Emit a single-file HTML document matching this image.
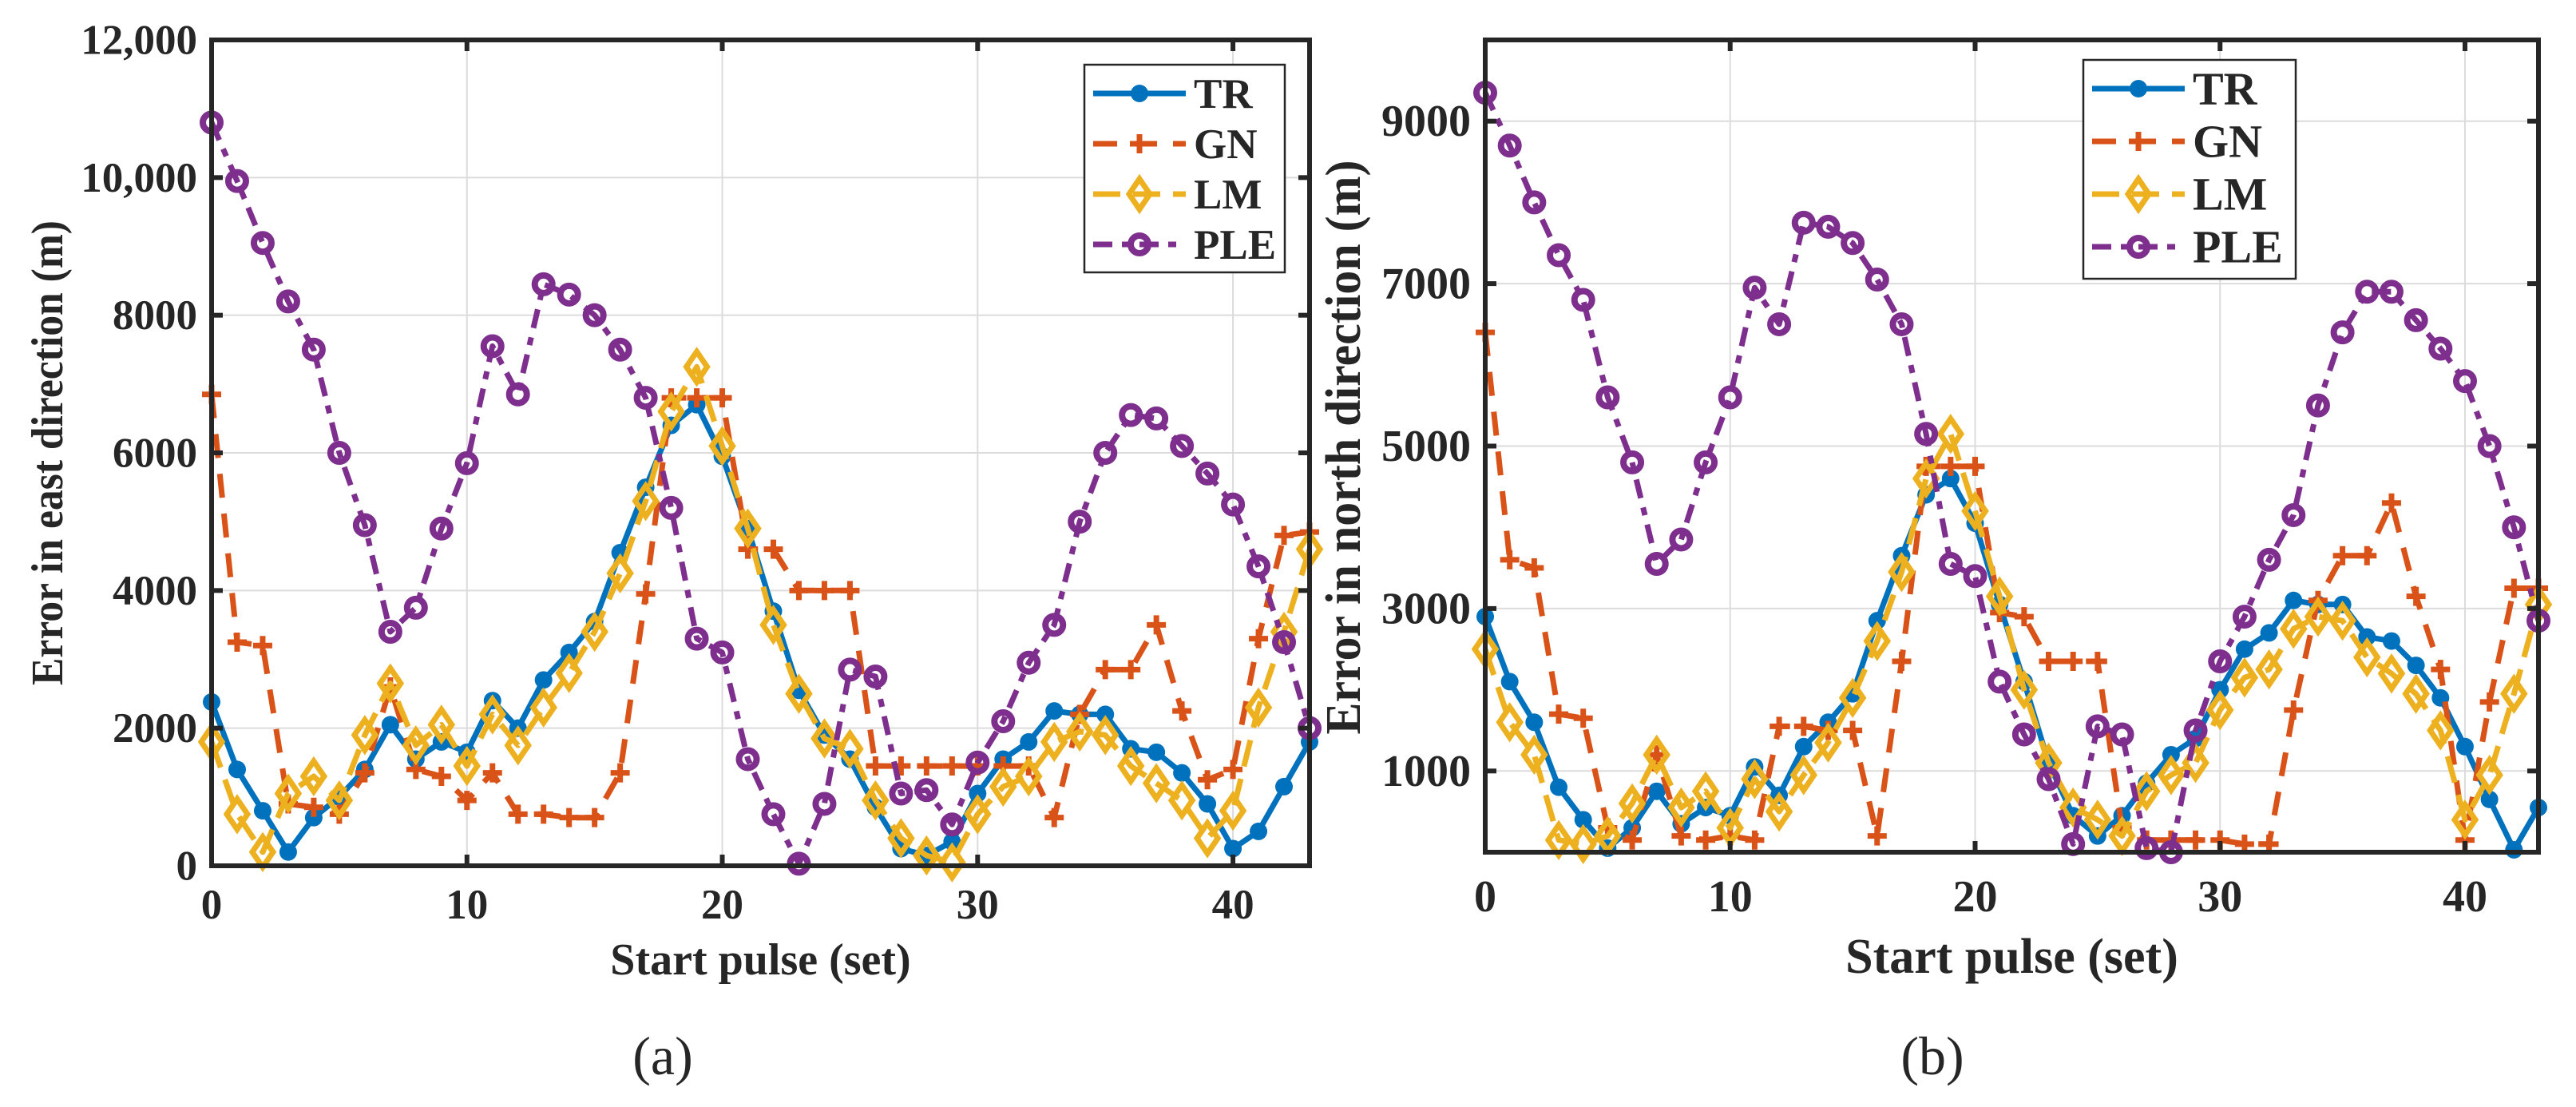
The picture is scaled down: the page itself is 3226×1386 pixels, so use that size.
<!DOCTYPE html>
<html><head><meta charset="utf-8"><style>
html,body{margin:0;padding:0;background:#fff;}
svg{display:block;}
svg text{font-family:"Liberation Serif","Times New Roman","Nimbus Roman","DejaVu Serif",serif;fill:#262626;}
</style></head><body>
<svg id="fig" width="3226" height="1386" viewBox="0 0 3226 1386" xmlns="http://www.w3.org/2000/svg" font-family="'Liberation Serif', 'DejaVu Serif', serif">
</svg>
<script>
const xs = Array.from({length:44},(_,i)=>i);
const eastTR  = [2380,1400,800,200,700,1000,1400,2050,1550,1800,1650,2400,2000,2700,3100,3550,4550,5500,6400,6700,5950,4900,3700,2550,1900,1550,850,250,150,350,1050,1550,1800,2250,2200,2200,1700,1650,1350,900,250,500,1150,1800];
const eastGN  = [6850,3250,3200,900,850,750,1350,2600,1400,1300,950,1350,750,750,700,700,1350,3950,6800,6800,6800,4600,4600,4000,4000,4000,1450,1450,1450,1450,1450,1450,1450,700,2200,2850,2850,3500,2250,1250,1400,3300,4800,4850];
const eastLM  = [1800,750,200,1050,1300,950,1900,2650,1750,2050,1450,2200,1750,2300,2800,3400,4250,5300,6600,7250,6100,4900,3500,2500,1850,1700,950,400,150,50,750,1150,1300,1800,1950,1900,1450,1200,950,400,800,2300,3400,4600];
const eastPLE = [10800,9950,9050,8200,7500,6000,4950,3400,3750,4900,5850,7550,6850,8450,8300,8000,7500,6800,5200,3300,3100,1550,750,30,900,2850,2750,1050,1100,600,1500,2100,2950,3500,5000,6000,6550,6500,6100,5700,5250,4350,3250,2000];
const northTR  = [2900,2100,1600,800,400,50,300,750,350,550,450,1050,700,1300,1600,1950,2850,3650,4400,4600,4050,3050,2100,1100,450,200,450,850,1200,1400,2000,2500,2700,3100,3050,3050,2650,2600,2300,1900,1300,650,30,550];
const northGN  = [6400,3600,3500,1700,1650,300,150,1200,200,150,200,150,1550,1550,1500,1500,200,2350,4750,4750,4750,2950,2900,2350,2350,2350,300,150,150,150,150,100,100,1750,3100,3650,3650,4300,3150,2250,150,1850,3250,3250];
const northLM  = [2500,1600,1200,150,100,200,600,1200,550,750,300,900,500,950,1350,1900,2600,3450,4600,5150,4200,3150,2000,1100,550,400,200,750,950,1100,1750,2150,2250,2750,2900,2850,2400,2200,1950,1500,400,950,1950,3050];
const northPLE = [9350,8700,8000,7350,6800,5600,4800,3550,3850,4800,5600,6950,6500,7750,7700,7500,7050,6500,5150,3550,3400,2100,1450,900,100,1550,1450,50,0,1500,2350,2900,3600,4150,5500,6400,6900,6900,6550,6200,5800,5000,4000,2850];
const xTicks = [0,10,20,30,40];
const eastYTicks = [0,2000,4000,6000,8000,10000,12000];
const eastYLabels = ["0","2000","4000","6000","8000","10,000","12,000"];
const northYTicks = [1000,3000,5000,7000,9000];
const northYLabels = ["1000","3000","5000","7000","9000"];
const seriesNames = ["TR","GN","LM","PLE"];

const NS="http://www.w3.org/2000/svg";
const svg=document.getElementById('fig');
const FF="'Liberation Serif', 'Times New Roman', 'DejaVu Serif', serif";
function mk(tag,attrs,parent){const e=document.createElementNS(NS,tag);for(const k in attrs)e.setAttribute(k,attrs[k]);if(tag==='text')e.setAttribute('font-family',FF);(parent||svg).appendChild(e);return e;}
const COL={TR:"#0072BD",GN:"#D95319",LM:"#EDB120",PLE:"#7E2F8E"};
const DASH={TR:"none",GN:"30 20",LM:"34 16",PLE:"24 12 10 12"};

function marker(g,name,x,y){
  let m;
  if(name==="TR"){m=mk('circle',{cx:x,cy:y,r:11,fill:COL.TR},g);}
  else if(name==="GN"){m=mk('path',{d:`M${x-12},${y}H${x+12}M${x},${y-12}V${y+12}`,stroke:COL.GN,'stroke-width':7,fill:'none'},g);}
  else if(name==="LM"){m=mk('path',{d:`M${x},${y-19}L${x+13},${y}L${x},${y+19}L${x-13},${y}Z`,stroke:COL.LM,'stroke-width':7,fill:'none'},g);}
  else {m=mk('circle',{cx:x,cy:y,r:11,stroke:COL.PLE,'stroke-width':8,fill:'none'},g);}
  
  
}

function panel(cfg){
  const {L,R,T,B,ymax,yTicks,yLabels,series,id,tickFs,labFs,ylab,ylabX,ylabLen,xlabY,leg,cap,capX}=cfg;
  const g=mk('g',{});
  
  
  const sx=v=>L+(v-0)/43*(R-L);
  const sy=v=>B-v/ymax*(B-T);
  xTicks.forEach(t=>{const l=mk('line',{x1:sx(t),x2:sx(t),y1:T,y2:B,stroke:'#dcdcdc','stroke-width':2},g);
    });
  yTicks.forEach(t=>{const l=mk('line',{x1:L,x2:R,y1:sy(t),y2:sy(t),stroke:'#dcdcdc','stroke-width':2},g);
    });
  const data=series;
  seriesNames.forEach((n,si)=>{
    const sg=mk('g',{},g);
    
    
    const vals=data[si];
    const d=vals.map((v,i)=>(i?'L':'M')+sx(xs[i]).toFixed(1)+','+sy(v).toFixed(1)).join('');
    const p=mk('path',{d,stroke:COL[n],'stroke-width':7,fill:'none','stroke-dasharray':DASH[n],'stroke-linejoin':'round'},sg);
    
    
    vals.forEach((v,i)=>marker(sg,n,sx(xs[i]),sy(v)));
  });
  const box=mk('rect',{x:L,y:T,width:R-L,height:B-T,fill:'none',stroke:'#262626','stroke-width':6},g);
  
  xTicks.forEach(t=>{
    mk('line',{x1:sx(t),x2:sx(t),y1:B,y2:B-14,stroke:'#262626','stroke-width':6},g);
    mk('line',{x1:sx(t),x2:sx(t),y1:T,y2:T+14,stroke:'#262626','stroke-width':6},g);
    const tx=mk('text',{x:sx(t),y:cfg.xtickY,'font-size':tickFs,'font-weight':'bold','text-anchor':'middle'},g);
    tx.textContent=String(t);
    
  });
  yTicks.forEach((t,i)=>{
    mk('line',{x1:L,x2:L+14,y1:sy(t),y2:sy(t),stroke:'#262626','stroke-width':6},g);
    mk('line',{x1:R,x2:R-14,y1:sy(t),y2:sy(t),stroke:'#262626','stroke-width':6},g);
    const tx=mk('text',{x:L-18,y:sy(t)+tickFs*0.33,'font-size':tickFs,'font-weight':'bold','text-anchor':'end'},g);
    tx.textContent=yLabels[i];
    
  });
  const xl=mk('text',{x:(L+R)/2+cfg.xlabDX,y:xlabY,'font-size':labFs,'font-weight':'bold','text-anchor':'middle'},g);
  xl.textContent="Start pulse (set)";
  
  const yc=cfg.ylabC;
  const yl=mk('text',{x:0,y:0,'font-size':labFs,'font-weight':'bold','text-anchor':'middle',transform:`translate(${ylabX},${yc}) rotate(-90)`,textLength:ylabLen,lengthAdjust:'spacingAndGlyphs'},g);
  yl.textContent=ylab;
  
  const lg=mk('g',{},g);
  
  mk('rect',{x:leg.x,y:leg.y,width:leg.w,height:leg.h,fill:'#fff',stroke:'#262626','stroke-width':2.5},lg);
  seriesNames.forEach((n,i)=>{
    const e=mk('g',{},lg);
    
    
    const cy=leg.y+36+i*leg.step;
    const x0=leg.x+11, x1=x0+116;
    mk('path',{d:`M${x0},${cy}H${x1}`,stroke:COL[n],'stroke-width':7,'stroke-dasharray':DASH[n]},e);
    marker(e,n,(x0+x1)/2,cy);
    const t=mk('text',{x:x1+10,y:cy+leg.fs*0.34,'font-size':leg.fs,'font-weight':'bold',fill:'#000'},e);
    t.textContent=n;
  });
  const c=mk('text',{x:capX,y:1345,'font-size':68,'text-anchor':'middle'},svg);
  c.textContent=cap;
  
}

panel({id:'east',L:265,R:1640,T:50,B:1084,ymax:12000,yTicks:eastYTicks,yLabels:eastYLabels,
  series:[eastTR,eastGN,eastLM,eastPLE],tickFs:53,labFs:56,ylab:"Error in east direction (m)",
  ylabX:78,ylabC:567,ylabLen:582,xlabY:1220,xlabDX:0,xtickY:1150,
  leg:{x:1358,y:81,w:251,h:260,step:63,fs:53},cap:"(a)",capX:830});
panel({id:'north',L:1860,R:3179,T:50,B:1067,ymax:10000,yTicks:northYTicks,yLabels:northYLabels,
  series:[northTR,northGN,northLM,northPLE],tickFs:56,labFs:62,ylab:"Error in north direction (m)",
  ylabX:1703,ylabC:560,ylabLen:719,xlabY:1218,xlabDX:0,xtickY:1141,
  leg:{x:2609,y:75,w:266,h:274,step:66,fs:58},cap:"(b)",capX:2420});
</script>
</body></html>
